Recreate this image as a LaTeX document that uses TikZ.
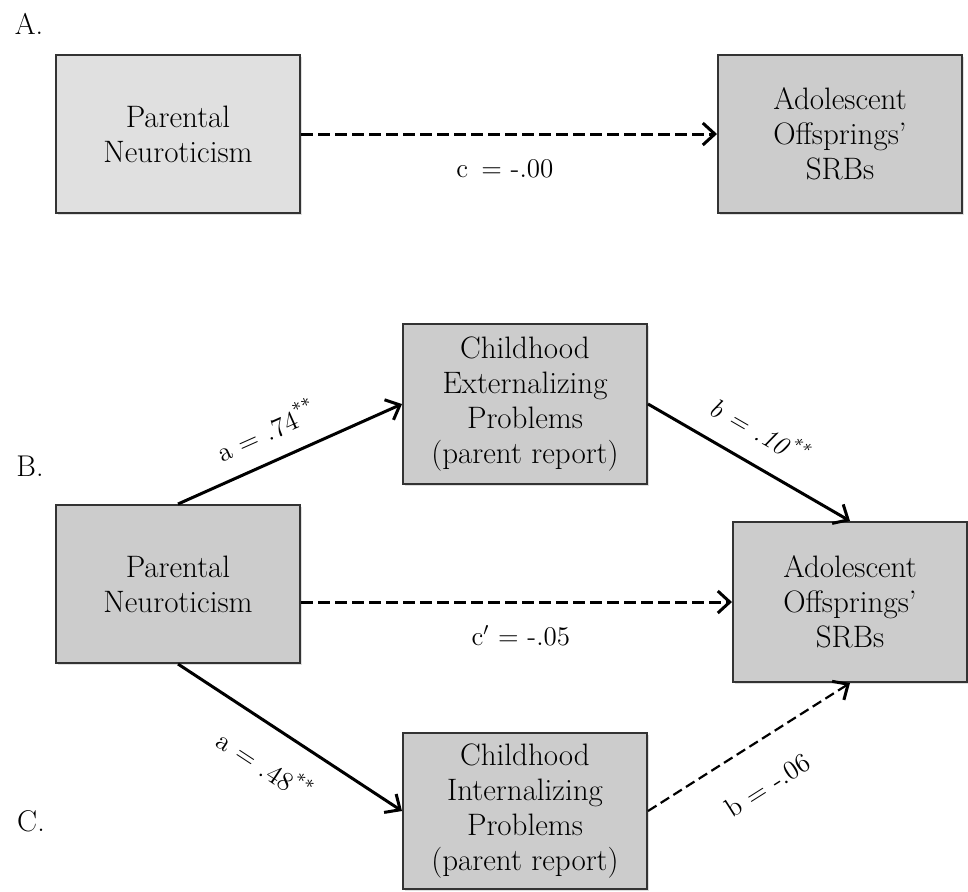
\documentclass[tikz,border=0pt]{standalone}
\usetikzlibrary{arrows.meta,shadows}
\definecolor{boxlight}{gray}{0.88}
\definecolor{boxdark}{gray}{0.80}
\definecolor{edge}{gray}{0.2}
\begin{document}
\begin{tikzpicture}[x=0.5pt,y=-0.5pt,
  box/.style={draw=edge, line width=1pt, fill=boxdark, align=center,
    inner sep=0pt, font=\fontsize{15.5}{17.5}\selectfont,
    drop shadow={shadow xshift=1pt, shadow yshift=-1pt, opacity=0.25}},
  solidarrow/.style={line width=1.5pt, -{Straight Barb[length=6pt,width=11pt,line width=1.5pt]}},
  dasharrow/.style={line width=1.5pt, dash pattern=on 6pt off 2.5pt, -{Straight Barb[length=6pt,width=11pt,line width=1.5pt]}},
  thindash/.style={line width=1.1pt, dash pattern=on 5pt off 2.5pt, -{Straight Barb[length=6pt,width=11pt,line width=1.5pt]}},
  lab/.style={font=\fontsize{13.5}{15}\selectfont, inner sep=0pt},
  panel/.style={font=\fontsize{15}{16}\selectfont, inner sep=0pt}]
\useasboundingbox (0,0) rectangle (968,891);
% panel letters
\node[panel] (lA) at (29,24) {A.};
\node[panel] (lB) at (30,466) {B.};
\node[panel] (lC) at (31,821) {C.};
% panel A
\node[box, fill=boxlight, minimum width=122pt, minimum height=79pt] (pnA) at (178,134) {Parental\\Neuroticism};
\node[box, minimum width=122pt, minimum height=79pt] (adA) at (840,134) {Adolescent\\Offsprings'\\SRBs};
\draw[dasharrow] (pnA.east) -- (adA.west) node[lab, pos=0.49, below=12pt] {c\, = -.00};
% panels B/C
\node[box, minimum width=122pt, minimum height=80pt] (ext) at (525,404) {Childhood\\Externalizing\\Problems\\(parent report)};
\node[box, minimum width=122pt, minimum height=79pt] (pnB) at (178,584) {Parental\\Neuroticism};
\node[box, minimum width=117pt, minimum height=80pt] (adB) at (850,602) {Adolescent\\Offsprings'\\SRBs};
\node[box, minimum width=122pt, minimum height=78pt] (int) at (525,811) {Childhood\\Internalizing\\Problems\\(parent report)};
\coordinate (cstart) at (pnB.east |- adB.west);
\draw[solidarrow] (pnB.north) -- (ext.west) node[lab, sloped, pos=0.45, above=9pt] {a = .74\textsuperscript{**}};
\draw[solidarrow] (ext.east) -- (adB.north) node[lab, sloped, pos=0.47, above=10pt] {\itshape b = .10\textsuperscript{**}};
\draw[dasharrow] (cstart) -- (adB.west) node[lab, pos=0.51, below=11pt] {c$'$ = -.05};
\draw[solidarrow] (pnB.south) -- (int.west) node[lab, sloped, pos=0.48, below=11pt] {a = .48\textsuperscript{**}};
\draw[thindash] (int.east) -- (adB.south) node[lab, sloped, pos=0.48, below=16pt] {b = -.06};
\end{tikzpicture}
\end{document}
